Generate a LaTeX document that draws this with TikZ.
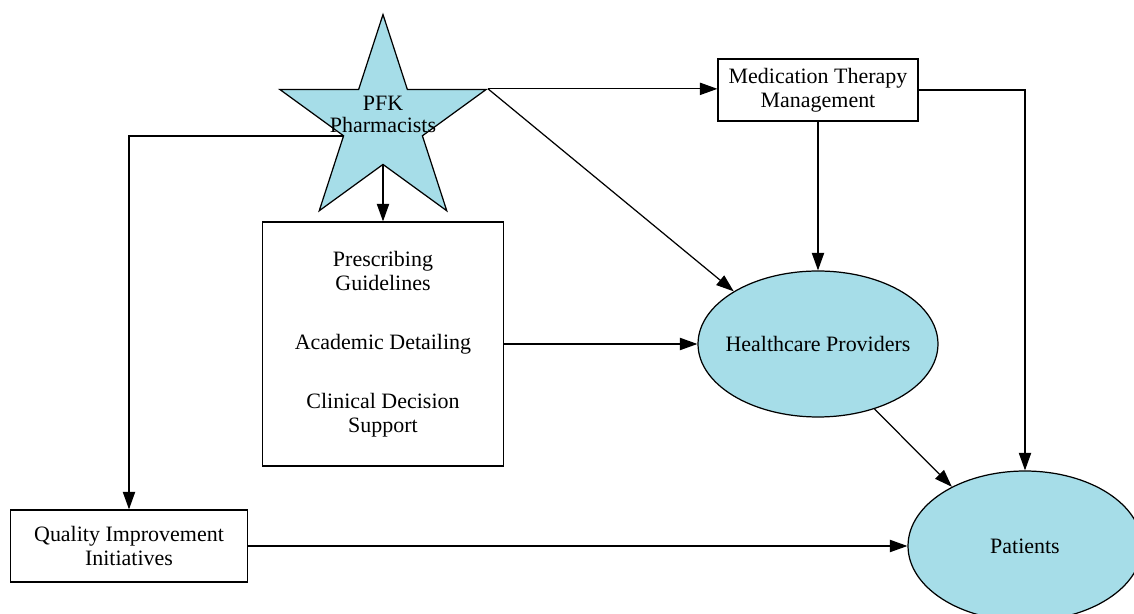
\documentclass[tikz,border=0pt]{standalone}
\usepackage{fontspec}
\setmainfont{Liberation Serif}
\usepackage{xcolor}
\usepackage{tikz}
\usetikzlibrary{shapes.geometric,arrows.meta}
\definecolor{starblue}{RGB}{166,221,232}

\begin{document}
\begin{tikzpicture}[x=0.02cm,y=-0.02cm,line width=0.7pt,
    every node/.style={font=\fontsize{12.5}{13.6}\selectfont},
    box/.style={draw,rectangle,align=center,inner sep=0pt},
    oval/.style={draw,ellipse,fill=starblue,inner xsep=-20pt,inner ysep=0pt},
    arr/.style={-{Triangle[length=10pt,width=7pt]}}]
                \useasboundingbox (0,0) rectangle (1134,614);
                \node[star,star points=5,star point ratio=2.618,draw,fill=starblue,inner sep=0pt,minimum size=4.34cm] (pfk) at (383,123) {};
                \node[align=center,font=\fontsize{12.5}{12.5}\selectfont] (pfklabel) at (383,114) {PFK\\Pharmacists};
                \node[box,minimum width=4cm,minimum height=1.24cm] (mtm) at (818,90) {Medication Therapy\\Management};
                \node[box,minimum width=4.82cm,minimum height=4.88cm] (tools) at (383,344) {Prescribing\\Guidelines\\[20pt]Academic Detailing\\[20pt]Clinical Decision\\Support};
                \node[box,minimum width=4.74cm,minimum height=1.44cm] (qi) at (129,546) {Quality Improvement\\Initiatives};
                \node[oval,minimum width=4.8cm,minimum height=2.92cm] (hp) at (818,344) {Healthcare Providers};
                \node[oval,minimum width=4.68cm,minimum height=3cm] (pat) at (1025,546) {Patients};
                \draw[arr] (pfk.18) -- (pfk.18 -| mtm.west);
                \draw[arr] (pfk.18) -- (hp.148);
                \draw[arr] (pfk.198) -| (qi.north);
                \draw[arr] (pfk.270) -- (tools.north);
                \draw[arr] (tools.east) -- (hp.west);
                \draw[arr] (mtm.south) -- (hp.north);
                \draw[arr] (mtm.east) -| (pat.north);
                \draw[arr] (hp.-49) -- (pat.141);
                \draw[arr] (qi.east) -- (pat.west);
            \end{tikzpicture}
\end{document}
